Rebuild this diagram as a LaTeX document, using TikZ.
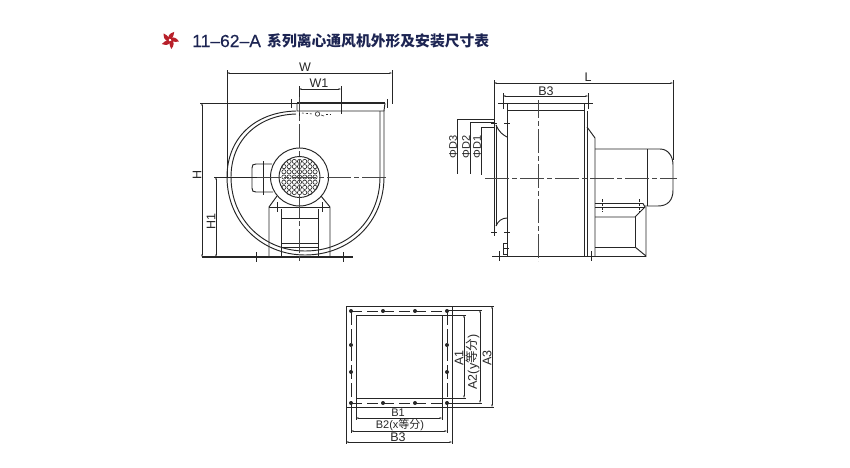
\documentclass[tikz,border=0pt]{standalone}
\usepackage{fontspec}
\setmainfont{Liberation Sans}
\newfontfamily\cjk{Noto Sans CJK SC}
\newfontfamily\titlefont[FakeBold=0.3]{Liberation Sans}
\usetikzlibrary{arrows.meta}
\definecolor{ink}{HTML}{262626}
\definecolor{navy}{HTML}{1C2452}
\definecolor{logored}{HTML}{B8202A}
\tikzset{
 main/.style={draw=ink,line width=.95pt},
 thin/.style={draw=ink,line width=.6pt},
 heavy/.style={draw=ink,line width=1.5pt},
 dimline/.style={draw=ink,line width=.6pt,{Stealth[length=2.6pt,width=1.6pt]}-{Stealth[length=2.6pt,width=1.6pt]}},
 extline/.style={draw=ink,line width=.6pt},
 cline/.style={draw=ink!85,line width=.8pt,dash pattern=on 24pt off 3pt on 5pt off 3pt},
 lbl/.style={text=ink,font=\fontsize{12.5}{13}\selectfont,inner sep=0pt},
 smalllbl/.style={text=ink,font=\fontsize{11}{12}\selectfont,inner sep=0pt},
 titletext/.style={text=navy,inner sep=0pt,anchor=west},
}
\begin{document}
\begin{tikzpicture}[x=1pt,y=-1pt]
\useasboundingbox (0,0) rectangle (850,467);
% ---- title
\begin{scope}[shift={(170,40)},scale=.85]
 \foreach \a in {0,72,144,216,288}
  \fill[logored,rotate=\a] (-2,-2) .. controls (-2,-6) and (0,-8) .. (5,-9.5) .. controls (4.5,-6.5) and (4,-4.5) .. (2,-1) -- cycle;
\end{scope}
\node[titletext] (t1) at (192,41) {\fontsize{17.5}{18}\selectfont\titlefont 11–62–A};
\node[titletext] (t2) at (267,41) {\fontsize{14.8}{16}\selectfont\cjk\bfseries 系列离心通风机外形及安装尺寸表};

% ---- front view: dimensions
\draw[extline] (227,70) -- (227,177);
\draw[extline] (392,70) -- (392,104);
\draw[dimline] (227,73) -- (392,73);
\node[lbl] (w) at (305,67) {W};
\draw[extline] (299,86) -- (299,118);
\draw[extline] (341,86) -- (341,114);
\draw[dimline] (299,89) -- (341,89);
\node[lbl] (w1) at (319,83) {W1};
\draw[extline] (200,103) -- (299,103);
\draw[dimline] (202,103) -- (202,257);
\node[lbl,rotate=90] (h) at (197,175) {H};
\draw[extline] (214,177) -- (272,177);
\draw[dimline] (216,177) -- (216,257);
\node[lbl,rotate=90] (h1) at (211,222) {H1};

% ---- front view: flange
\draw[heavy] (297,103) -- (385,103);
\draw[main] (297,103) -- (297,111) -- (384,111) -- (385,103);
\foreach \x in {291,387} \draw[thin] (\x,99) -- (\x,108);
\draw[thin,dash pattern=on 2pt off 2pt] (302,113) -- (313,114);
\draw[thin] (317.5,114) circle (2.2);
\draw[thin] (321,115) -- (324,116);
\draw[thin,dash pattern=on 1.5pt off 2pt] (326,114) -- (332,114);

% ---- scroll
\draw[main] (296,111) .. controls (255,112) and (227,138) .. (227,177)
  .. controls (227,222) and (262,255) .. (305,255)
  .. controls (350,255) and (384,222) .. (384,177) -- (384,111);
\draw[main] (296,114) .. controls (258,115) and (231,140) .. (231,177)
  .. controls (231,220) and (264,251) .. (305,251)
  .. controls (348,251) and (380,220) .. (380,177) -- (380,111);

% ---- pedestal
\draw[main] (269,257) -- (269,207) -- (277,196);
\draw[main] (330,257) -- (330,207) -- (321,196);
\draw[thin] (269,207) -- (330,207);
\draw[main] (281,257) -- (281,209);
\draw[main] (318,257) -- (318,209);
\draw[main] (281,218) -- (318,218);
\draw[thin] (281,243) -- (318,243);
\draw[thin] (281,247) -- (318,247);
\foreach \x in {277,322} \draw[thin] (\x,202) -- (\x,212);
\draw[heavy] (202,257) -- (353,257);
\foreach \x in {256,343} \draw[thin] (\x,252) -- (\x,262);

% ---- motor
\fill[white] (299.5,177) circle (29);
\draw[main] (272,164) -- (256,164) .. controls (253,164) and (252,165) .. (252,168) -- (252,188) .. controls (252,191) and (253,192) .. (256,192) -- (273,192);
\draw[thin] (263,161) -- (263,195);
\draw[main] (299.5,177) circle (29);
\draw[main] (299.5,177) circle (20.5);
\foreach \i in {-3,...,3} \foreach \j in {-3,...,3} {
  \pgfmathparse{(\i*5.2)*(\i*5.2)+(\j*5.2)*(\j*5.2)<360?1:0}
  \ifnum\pgfmathresult=1
   \draw[draw=ink,line width=.6pt] ({299.5+\i*5.2},{177+\j*5.2}) circle (2.1);
  \fi
}
% centre lines
\draw[cline,dash phase=8pt] (299.5,97) -- (299.5,263);
\draw[cline] (257,177) -- (388,177);

% ---- side view: dimensions
\draw[extline] (494,80) -- (494,120);
\draw[extline] (673,80) -- (673,160);
\draw[dimline] (494,83) -- (673,83);
\node[lbl] (l) at (588,77) {L};
\draw[dimline] (503,96) -- (588,96);
\node[lbl] (b3s) at (546,91) {B3};
\foreach \x in {503,588} \draw[thin] (\x,93) -- (\x,109);
\draw[extline] (457,119) -- (495,119);
\draw[extline] (470,122.5) -- (495,122.5);
\draw[extline] (481,127) -- (495,127);
\draw[extline] (457,119) -- (457,174);
\draw[extline] (470,122.5) -- (470,174);
\draw[extline] (481,127) -- (481,175);
\node[smalllbl,rotate=90] (d3) at (453,147) {ΦD3};
\node[smalllbl,rotate=90] (d2) at (466,147) {ΦD2};
\node[smalllbl,rotate=90] (d1) at (477,147) {ΦD1};

% ---- side view: body
\draw[heavy] (498,103.5) -- (593,103.5);
\draw[main] (507,104) -- (507,256);
\draw[main] (507,110.5) -- (585,110.5);
\draw[main] (584,104) -- (584,256);
\draw[main] (587,111) -- (587,256);
\draw[main] (492,256) -- (598,256);
\draw[main] (595,256) -- (646,256);
\draw[main] (587,127) -- (595,138) -- (595,256);
\foreach \x in {499,591} \draw[thin] (\x,251) -- (\x,261);
% inlet
\draw[main] (494,120) -- (494,232);
\draw[main] (496,125) -- (496,226);
\draw[main] (496,125) .. controls (499,132) and (503,135) .. (507,137);
\draw[main] (496,226) .. controls (498,221) and (502,218) .. (507,218);
\foreach \y in {123,232} {
  \draw[thin] (491,\y) -- (497,\y);
  \draw[thin] (504,\y) -- (510,\y);
}
\draw[thin] (494,228) -- (494,236);
% small bracket
\draw[thin] (507,243) -- (503,243) -- (503,254) -- (507,254);
\draw[thin] (503,248.5) -- (509,248.5);
% motor
\draw[main] (595,149) -- (660,149) .. controls (668,149) and (673,156) .. (673,165) -- (673,190) .. controls (673,200) and (668,206) .. (658,206) -- (645,206);
\draw[main] (647,149) -- (647,206);
% base
\draw[main] (595,203.5) -- (643,203.5) -- (645,207) -- (635,217) -- (595,217);
\draw[main] (595,207) -- (645,207);
\draw[main] (635,217) -- (635,247) -- (595,247);
\draw[main] (635,247) -- (646,256) -- (646,207);
\foreach \x in {602,639} \draw[thin,dash pattern=on 3pt off 1pt] (\x,199) -- (\x,212);
% centre lines
\draw[cline,dash phase=6pt] (538,100) -- (538,261);
\draw[cline] (485,178) -- (677,178);

% ---- flange square
\draw[main] (346,306) rectangle (452,407);
\draw[main] (356,315) rectangle (442,398);
\draw[main,dash pattern=on 11pt off 5pt] (351,311) -- (447,311);
\draw[main,dash pattern=on 11pt off 5pt] (351,403) -- (447,403);
\draw[main,dash pattern=on 14pt off 4pt] (351,311) -- (351,403);
\draw[main,dash pattern=on 14pt off 4pt] (447,311) -- (447,403);
\foreach \x in {351,383,415,447} \foreach \y in {311,403}
  \fill[ink] (\x,\y) circle (2);
\foreach \x in {351,447} \foreach \y in {345,372}
  \fill[ink] (\x,\y) circle (2);
% right dims
\draw[extline] (442,315) -- (466,315);
\draw[extline] (442,398) -- (466,398);
\draw[dimline] (464,315) -- (464,398);
\node[lbl,rotate=90] (a1) at (459,358) {A1};
\draw[extline] (447,310) -- (482,310);
\draw[extline] (447,403) -- (482,403);
\draw[dimline] (480,310) -- (480,403);
\node[lbl,rotate=90] (a2) at (473,362) {A2(y{\cjk 等分})};
\draw[extline] (452,306) -- (494,306);
\draw[extline] (452,407) -- (494,407);
\draw[dimline] (492,306) -- (492,407);
\node[lbl,rotate=90] (a3) at (487,358) {A3};
% bottom dims
\draw[extline] (356,398) -- (356,420);
\draw[extline] (442,398) -- (442,420);
\draw[dimline] (356,418) -- (442,418);
\node[smalllbl] (b1) at (398,413) {B1};
\draw[extline] (351,403) -- (351,433);
\draw[extline] (447,403) -- (447,433);
\draw[dimline] (351,431) -- (447,431);
\node[smalllbl] (b2) at (400,425) {B2(x{\cjk 等分})};
\draw[extline] (346,407) -- (346,444);
\draw[extline] (452,407) -- (452,444);
\draw[dimline] (346,442) -- (452,442);
\node[lbl] (b3) at (398,437) {B3};
\end{tikzpicture}
\end{document}
